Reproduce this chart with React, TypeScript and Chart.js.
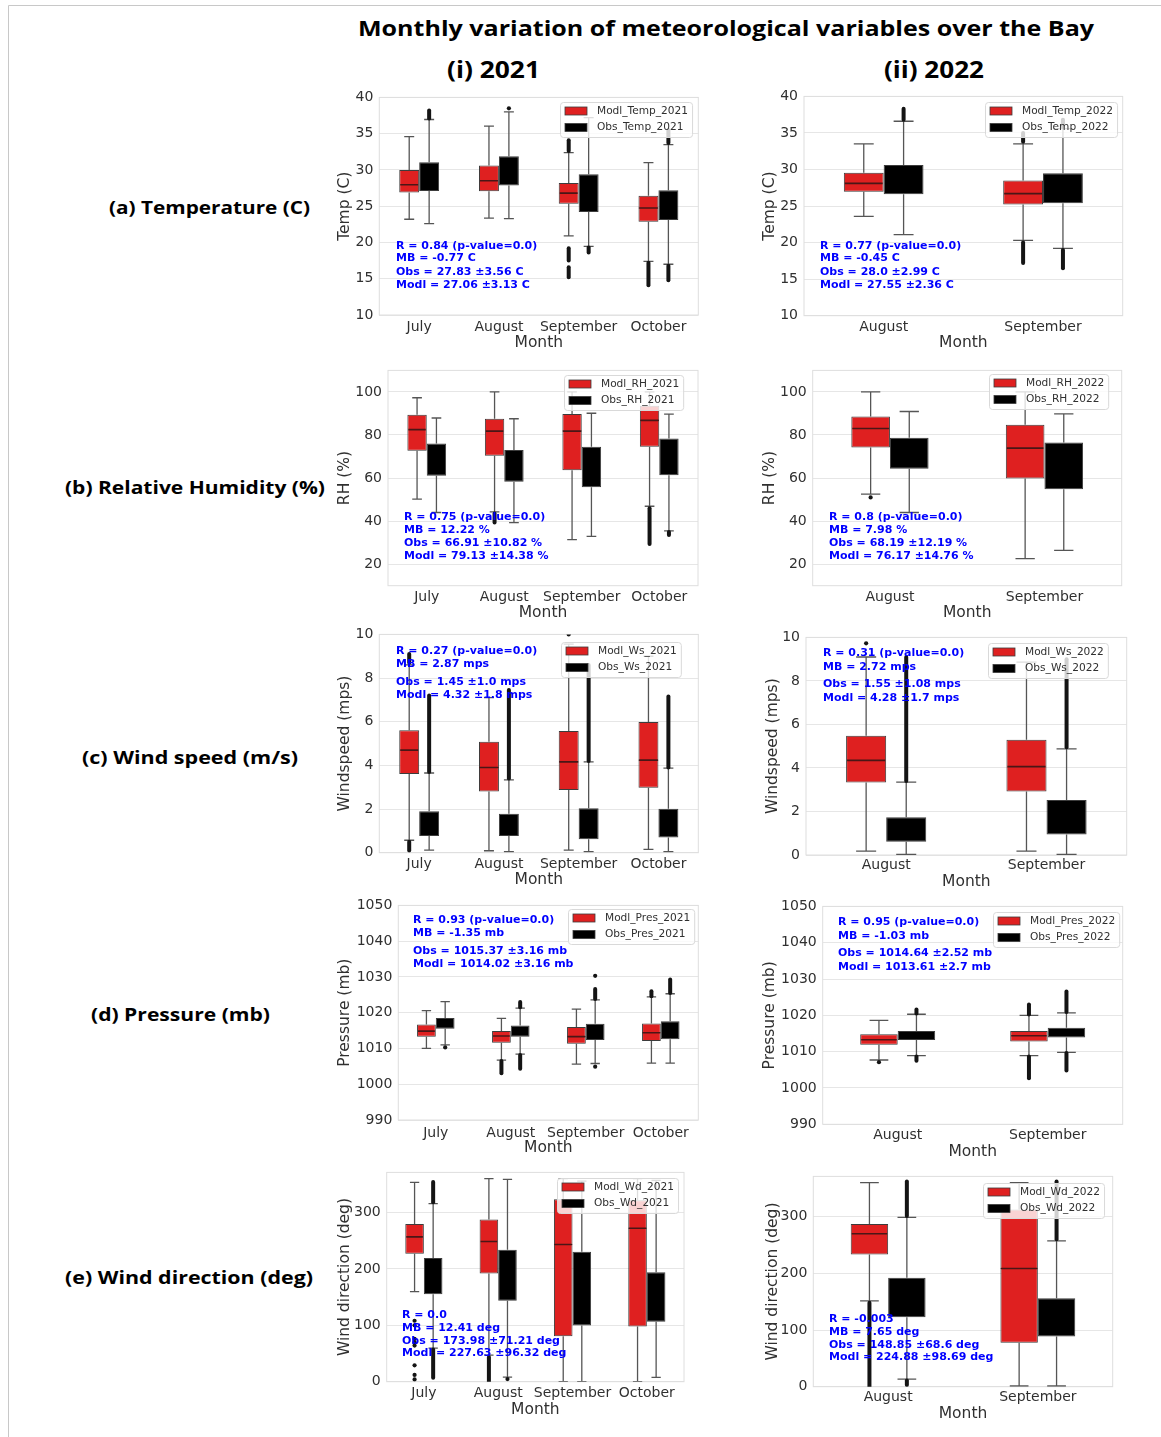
import React, { useEffect, useRef } from "react";
import { Chart, registerables } from "chart.js";

Chart.register(...registerables);
Chart.defaults.font.family = "'DejaVu Sans', sans-serif";

// ---------------------------------------------------------------------------
// Data. Box statistics are [lower whisker, Q1, median, Q3, upper whisker];
// Obs medians are not drawn (null). Outliers: single values or [from, to] runs
// of densely packed flier markers.
// ---------------------------------------------------------------------------
const MONTHS_2021 = ["July", "August", "September", "October"];
const MONTHS_2022 = ["August", "September"];

// (a) Temperature (C)
const TEMP_MODL_2021 = [
  [23.2, 26.9, 27.95, 30.0, 34.6],
  [23.35, 27.05, 28.5, 30.6, 36.05],
  [20.9, 25.35, 26.8, 28.2, 32.4],
  [17.4, 22.85, 24.75, 26.45, 31.0],
];
const TEMP_OBS_2021 = [
  [22.6, 27.1, null, 31.05, 36.95],
  [23.3, 27.85, null, 31.9, 38.0],
  [19.45, 24.2, null, 29.4, 37.2],
  [17.0, 23.1, null, 27.2, 33.5],
];
const TEMP_MODL_OUT_2021 = [[], [], [[32.6, 34.1], [17.5, 19.2], [15.2, 16.6]], [[14.1, 17.2]]];
const TEMP_OBS_OUT_2021 = [[[37.1, 38.2]], [38.5], [[18.6, 19.3]], [[33.7, 35.5], [14.8, 16.8]]];
const TEMP_STATS_2021 = ["R = 0.84 (p-value=0.0)", "MB = -0.77 C", "Obs = 27.83 \u00b13.56 C", "Modl = 27.06 \u00b13.13 C"];

const TEMP_MODL_2022 = [
  [23.6, 26.95, 28.1, 29.56, 33.5],
  [20.3, 25.2, 26.7, 28.5, 33.5],
];
const TEMP_OBS_2022 = [
  [21.1, 26.6, null, 30.6, 36.6],
  [19.2, 25.4, null, 29.5, 35.6],
];
const TEMP_MODL_OUT_2022 = [[], [[33.8, 35.0], [17.2, 20.0]]];
const TEMP_OBS_OUT_2022 = [[[36.8, 38.3]], [[35.8, 36.8], [16.5, 19.0]]];
const TEMP_STATS_2022 = ["R = 0.77 (p-value=0.0)", "MB = -0.45 C", "Obs = 28.0 \u00b12.99 C", "Modl = 27.55 \u00b12.36 C"];

// (b) Relative Humidity (%)
const RH_MODL_2021 = [
  [50.2, 72.7, 82.5, 89.4, 97.3],
  [44.3, 70.4, 81.8, 87.55, 100],
  [31.4, 63.6, 81.8, 89.8, 100],
  [46.9, 74.5, 86.8, 93.6, 100],
];
const RH_OBS_2021 = [
  [44.0, 61.1, null, 76.0, 87.9],
  [39.3, 58.3, null, 73.0, 87.55],
  [32.9, 55.7, null, 74.5, 90.1],
  [35.5, 61.3, null, 78.4, 89.7],
];
const RH_MODL_OUT_2021 = [[], [[39.3, 43.5]], [], [[29.4, 46.0]]];
const RH_OBS_OUT_2021 = [[], [], [], [[33.5, 35.0]]];
const RH_STATS_2021 = ["R = 0.75 (p-value=0.0)", "MB = 12.22 %", "Obs = 66.91 \u00b110.82 %", "Modl = 79.13 \u00b114.38 %"];

const RH_MODL_2022 = [
  [52.5, 74.2, 83.0, 88.6, 100],
  [22.6, 59.8, 73.9, 84.8, 100],
];
const RH_OBS_2022 = [
  [44.0, 64.3, null, 78.75, 90.9],
  [26.4, 54.8, null, 76.5, 89.8],
];
const RH_MODL_OUT_2022 = [[51.0], []];
const RH_OBS_OUT_2022 = [[], []];
const RH_STATS_2022 = ["R = 0.8 (p-value=0.0)", "MB = 7.98 %", "Obs = 68.19 \u00b112.19 %", "Modl = 76.17 \u00b114.76 %"];

// (c) Wind speed (m/s)
const WS_MODL_2021 = [
  [0.57, 3.6, 4.7, 5.61, 8.6],
  [0.09, 2.8, 3.9, 5.08, 7.1],
  [0.12, 2.87, 4.16, 5.57, 9.55],
  [0.15, 2.97, 4.24, 5.99, 9.0],
];
const WS_OBS_2021 = [
  [0.12, 0.77, null, 1.9, 3.65],
  [0.05, 0.77, null, 1.78, 3.34],
  [0.05, 0.62, null, 2.04, 4.16],
  [0.05, 0.7, null, 2.01, 3.87],
];
const WS_MODL_OUT_2021 = [[[8.7, 9.1], [0.1, 0.5]], [], [10.0], []];
const WS_OBS_OUT_2021 = [[[3.7, 7.2]], [[3.4, 7.45]], [[4.2, 8.6]], [[3.9, 7.15]]];
const WS_STATS_2021 = ["R = 0.27 (p-value=0.0)", "MB = 2.87 mps", "Obs = 1.45 \u00b11.0 mps", "Modl = 4.32 \u00b11.8 mps"];

const WS_MODL_2022 = [
  [0.18, 3.33, 4.35, 5.48, 9.1],
  [0.18, 2.92, 4.06, 5.3, 8.86],
];
const WS_OBS_2022 = [
  [0.03, 0.61, null, 1.73, 3.35],
  [0.03, 0.94, null, 2.53, 4.88],
];
const WS_MODL_OUT_2022 = [[9.73], []];
const WS_OBS_OUT_2022 = [[[3.4, 9.1]], [[4.95, 9.0]]];
const WS_STATS_2022 = ["R = 0.31 (p-value=0.0)", "MB = 2.72 mps", "Obs = 1.55 \u00b11.08 mps", "Modl = 4.28 \u00b11.7 mps"];

// (d) Pressure (mb)
const PRES_MODL_2021 = [
  [1010.0, 1013.3, 1014.85, 1016.7, 1020.6],
  [1006.75, 1011.6, 1013.5, 1014.85, 1018.4],
  [1005.65, 1011.35, 1013.3, 1016.0, 1021.0],
  [1005.9, 1012.1, 1014.4, 1017.0, 1024.4],
];
const PRES_OBS_2021 = [
  [1011.0, 1015.5, null, 1018.5, 1023.1],
  [1008.4, 1013.3, null, 1016.4, 1021.3],
  [1005.8, 1012.4, null, 1016.9, 1023.6],
  [1005.9, 1012.55, null, 1017.6, 1025.3],
];
const PRES_MODL_OUT_2021 = [[], [[1003.1, 1006.5]], [], [[1024.6, 1026.0]]];
const PRES_OBS_OUT_2021 = [[1010.3], [[1021.5, 1023.0], [1004.3, 1008.2]], [[1023.8, 1026.6], 1030.3, 1004.9], [[1025.5, 1029.3]]];
const PRES_STATS_2021 = ["R = 0.93 (p-value=0.0)", "MB = -1.35 mb", "Obs = 1015.37 \u00b13.16 mb", "Modl = 1014.02 \u00b13.16 mb"];

const PRES_MODL_2022 = [
  [1007.7, 1011.9, 1013.3, 1014.8, 1018.6],
  [1008.9, 1012.8, 1014.4, 1015.7, 1020.0],
];
const PRES_OBS_2022 = [
  [1008.9, 1013.2, null, 1015.7, 1020.3],
  [1009.8, 1013.9, null, 1016.6, 1020.7],
];
const PRES_MODL_OUT_2022 = [[1007.1], [[1020.2, 1023.0], [1002.7, 1008.7]]];
const PRES_OBS_OUT_2022 = [[[1020.5, 1021.6], [1007.5, 1008.7]], [[1020.9, 1026.6], [1004.8, 1009.6]]];
const PRES_STATS_2022 = ["R = 0.95 (p-value=0.0)", "MB = -1.03 mb", "Obs = 1014.64 \u00b12.52 mb", "Modl = 1013.61 \u00b12.7 mb"];

// (e) Wind direction (deg)
const WD_MODL_2021 = [
  [159.6, 226.9, 256.7, 279.5, 353.2],
  [47.0, 191.8, 248.5, 287.7, 360],
  [0, 80.7, 243.3, 323.4, 360],
  [0, 97.7, 271.9, 321.6, 360],
];
const WD_OBS_2021 = [
  [59.6, 155.0, null, 219.3, 315.8],
  [8.2, 143.3, null, 233.9, 358.5],
  [0, 99.4, null, 230.4, 355.6],
  [7.6, 106.4, null, 194.2, 356.7],
];
const WD_MODL_OUT_2021 = [[108, 100, 76, 70, 64, 29, 12, 4], [[0, 44]], [], []];
const WD_OBS_OUT_2021 = [[[318, 354], [7, 57]], [4.7], [], []];
const WD_STATS_2021 = ["R = 0.0", "MB = 12.41 deg", "Obs = 173.98 \u00b171.21 deg", "Modl = 227.63 \u00b196.32 deg"];

const WD_MODL_2022 = [
  [151.4, 233.0, 269.7, 287.1, 360],
  [1.2, 77.5, 208.5, 312.8, 360],
];
const WD_OBS_2022 = [
  [13.4, 122.3, null, 192.2, 298.8],
  [1.2, 88.5, null, 156.1, 257.4],
];
const WD_MODL_OUT_2022 = [[[0, 148]], []];
const WD_OBS_OUT_2022 = [[[301, 362], [3, 11]], [[260, 362]]];
const WD_STATS_2022 = ["R = -0.003", "MB = 7.65 deg", "Obs = 148.85 \u00b168.6 deg", "Modl = 224.88 \u00b198.69 deg"];

// Axis ranges and tick values
const TEMP_TICKS = [10, 15, 20, 25, 30, 35, 40];
const RH_TICKS = [20, 40, 60, 80, 100];
const WS_TICKS = [0, 2, 4, 6, 8, 10];
const PRES_TICKS = [990, 1000, 1010, 1020, 1030, 1040, 1050];
const WD_TICKS = [0, 100, 200, 300];

// Headings
const MAIN_TITLE = "Monthly variation of meteorological variables over the Bay";
const YEAR_TITLES = ["(i) 2021", "(ii) 2022"];
const ROW_LABELS = [
  "(a) Temperature (C)",
  "(b) Relative Humidity (%)",
  "(c) Wind speed (m/s)",
  "(d) Pressure (mb)",
  "(e) Wind direction (deg)",
];

// ---------------------------------------------------------------------------
// Panels (data side)
// ---------------------------------------------------------------------------
const PANELS = [
  { months: MONTHS_2021, modl: TEMP_MODL_2021, obs: TEMP_OBS_2021, modlOut: TEMP_MODL_OUT_2021, obsOut: TEMP_OBS_OUT_2021, stats: TEMP_STATS_2021, yTitle: "Temp (C)", legend: ["Modl_Temp_2021", "Obs_Temp_2021"], yMin: 10, yMax: 40, yTicks: TEMP_TICKS },
  { months: MONTHS_2022, modl: TEMP_MODL_2022, obs: TEMP_OBS_2022, modlOut: TEMP_MODL_OUT_2022, obsOut: TEMP_OBS_OUT_2022, stats: TEMP_STATS_2022, yTitle: "Temp (C)", legend: ["Modl_Temp_2022", "Obs_Temp_2022"], yMin: 10, yMax: 40, yTicks: TEMP_TICKS },
  { months: MONTHS_2021, modl: RH_MODL_2021, obs: RH_OBS_2021, modlOut: RH_MODL_OUT_2021, obsOut: RH_OBS_OUT_2021, stats: RH_STATS_2021, yTitle: "RH (%)", legend: ["Modl_RH_2021", "Obs_RH_2021"], yMin: 10, yMax: 110, yTicks: RH_TICKS },
  { months: MONTHS_2022, modl: RH_MODL_2022, obs: RH_OBS_2022, modlOut: RH_MODL_OUT_2022, obsOut: RH_OBS_OUT_2022, stats: RH_STATS_2022, yTitle: "RH (%)", legend: ["Modl_RH_2022", "Obs_RH_2022"], yMin: 10, yMax: 110, yTicks: RH_TICKS },
  { months: MONTHS_2021, modl: WS_MODL_2021, obs: WS_OBS_2021, modlOut: WS_MODL_OUT_2021, obsOut: WS_OBS_OUT_2021, stats: WS_STATS_2021, yTitle: "Windspeed (mps)", legend: ["Modl_Ws_2021", "Obs_Ws_2021"], yMin: 0, yMax: 10, yTicks: WS_TICKS },
  { months: MONTHS_2022, modl: WS_MODL_2022, obs: WS_OBS_2022, modlOut: WS_MODL_OUT_2022, obsOut: WS_OBS_OUT_2022, stats: WS_STATS_2022, yTitle: "Windspeed (mps)", legend: ["Modl_Ws_2022", "Obs_Ws_2022"], yMin: 0, yMax: 10, yTicks: WS_TICKS },
  { months: MONTHS_2021, modl: PRES_MODL_2021, obs: PRES_OBS_2021, modlOut: PRES_MODL_OUT_2021, obsOut: PRES_OBS_OUT_2021, stats: PRES_STATS_2021, yTitle: "Pressure (mb)", legend: ["Modl_Pres_2021", "Obs_Pres_2021"], yMin: 990, yMax: 1050, yTicks: PRES_TICKS },
  { months: MONTHS_2022, modl: PRES_MODL_2022, obs: PRES_OBS_2022, modlOut: PRES_MODL_OUT_2022, obsOut: PRES_OBS_OUT_2022, stats: PRES_STATS_2022, yTitle: "Pressure (mb)", legend: ["Modl_Pres_2022", "Obs_Pres_2022"], yMin: 990, yMax: 1050, yTicks: PRES_TICKS },
  { months: MONTHS_2021, modl: WD_MODL_2021, obs: WD_OBS_2021, modlOut: WD_MODL_OUT_2021, obsOut: WD_OBS_OUT_2021, stats: WD_STATS_2021, yTitle: "Wind direction (deg)", legend: ["Modl_Wd_2021", "Obs_Wd_2021"], yMin: 0, yMax: 371, yTicks: WD_TICKS },
  { months: MONTHS_2022, modl: WD_MODL_2022, obs: WD_OBS_2022, modlOut: WD_MODL_OUT_2022, obsOut: WD_OBS_OUT_2022, stats: WD_STATS_2022, yTitle: "Wind direction (deg)", legend: ["Modl_Wd_2022", "Obs_Wd_2022"], yMin: 0, yMax: 371, yTicks: WD_TICKS },
];

// ---------------------------------------------------------------------------
// Panel geometry on the page (plot area L/T/R/B, title centres, legend, notes)
// ---------------------------------------------------------------------------
const LAYOUTS = [
  { L: 379.3, T: 94.5, R: 698.3, B: 315, yTitleX: 345, xTitleY: 342.5, xPad: 3.6, legendX: 560, legendY: 102, statsX: 396, statsY: [245.7, 258.3, 271.7, 285] },
  { L: 804, T: 94.3, R: 1122.7, B: 315.7, yTitleX: 770, xTitleY: 343, xPad: 3.6, legendX: 985, legendY: 102, statsX: 820, statsY: [246.3, 258.3, 271.7, 285] },
  { L: 388, T: 367.7, R: 698, B: 585.7, yTitleX: 345, xTitleY: 613, xPad: 3, legendX: 564, legendY: 375, statsX: 404, statsY: [517.3, 530, 543.3, 556] },
  { L: 812.7, T: 367.7, R: 1121.7, B: 585.7, yTitleX: 770.7, xTitleY: 613, xPad: 3, legendX: 989, legendY: 374, statsX: 829, statsY: [517.3, 530, 543.3, 556] },
  { L: 379.3, T: 632.3, R: 698.3, B: 852.7, yTitleX: 345, xTitleY: 880, xPad: 3, legendX: 561, legendY: 642, statsX: 396, statsY: [650.7, 664.3, 681.7, 695] },
  { L: 806, T: 635, R: 1126.7, B: 855, yTitleX: 773, xTitleY: 882, xPad: 2.3, legendX: 988, legendY: 643, statsX: 823, statsY: [653.3, 666.7, 684.3, 697.7] },
  { L: 398.3, T: 902.7, R: 698.3, B: 1120, yTitleX: 345, xTitleY: 1148, xPad: 4.6, legendX: 568, legendY: 909, statsX: 413, statsY: [920, 933.3, 951, 964] },
  { L: 822.7, T: 904.3, R: 1122.7, B: 1124.3, yTitleX: 770, xTitleY: 1151.7, xPad: 3, legendX: 993, legendY: 912, statsX: 838, statsY: [921.7, 935.7, 953.3, 966.7] },
  { L: 386.7, T: 1170, R: 684, B: 1381.7, yTitleX: 345, xTitleY: 1409.3, xPad: 3.2, legendX: 557, legendY: 1178, statsX: 402, statsY: [1315, 1328.3, 1341, 1353.3] },
  { L: 813.3, T: 1174.3, R: 1112.7, B: 1386.7, yTitleX: 773, xTitleY: 1414, xPad: 2.6, legendX: 983, legendY: 1183, statsX: 829, statsY: [1319.3, 1332.3, 1344.7, 1357.3] },
];

const TITLE_POS = { x: 358, y: 36, w: 736, size: 21 };
const YEAR_POS = [
  { x: 447, y: 77.5, w: 93, size: 23 },
  { x: 884, y: 77.5, w: 100, size: 23 },
];
const ROW_POS = [
  { x: 109, y: 213.5, w: 201 },
  { x: 65, y: 493.5, w: 260 },
  { x: 82, y: 763.5, w: 216 },
  { x: 91, y: 1020.5, w: 179 },
  { x: 65, y: 1283.5, w: 248 },
];

// Styling
const RED = "#df2020";
const BLACK = "#000000";
const BOX_EDGE = "#3c3c3c";
const WHISKER = "#555555";
const MEDIAN = "#4a1616";
const FLIER = "#141414";
const GRID = "#e6e6e6";
const FRAME = "#dedede";
const TEXT = "#303030";
const NOTE = "#0000ff";
const TICK_SIZE = 14;
const TITLE_SIZE = 15.5;
const TITLE_HALF = (TITLE_SIZE * 1.2) / 2 + 4;

function makeBoxParts(spec: any, lay: any, cl: number, ct: number) {
  const stats = [spec.modl, spec.obs];
  const outs = [spec.modlOut, spec.obsOut];
  return {
    id: "boxParts",
    beforeDatasetsDraw(chart: any) {
      const { ctx, chartArea: a } = chart;
      const y = chart.scales.y;
      ctx.save();
      ctx.strokeStyle = FRAME;
      ctx.lineWidth = 1;
      ctx.strokeRect(a.left, a.top, a.right - a.left, a.bottom - a.top);
      ctx.beginPath();
      ctx.rect(a.left, a.top, a.right - a.left, a.bottom - a.top);
      ctx.clip();
      ctx.strokeStyle = WHISKER;
      ctx.lineWidth = 1.3;
      for (let d = 0; d < 2; d++) {
        const meta = chart.getDatasetMeta(d);
        stats[d].forEach((s: any[], i: number) => {
          const bar = meta.data[i];
          const x = bar.x;
          const cap = bar.width / 4;
          const [lo, q1, , q3, hi] = s;
          const pLo = y.getPixelForValue(lo);
          const pHi = y.getPixelForValue(hi);
          ctx.beginPath();
          ctx.moveTo(x, y.getPixelForValue(q3));
          ctx.lineTo(x, pHi);
          ctx.moveTo(x - cap, pHi);
          ctx.lineTo(x + cap, pHi);
          ctx.moveTo(x, y.getPixelForValue(q1));
          ctx.lineTo(x, pLo);
          ctx.moveTo(x - cap, pLo);
          ctx.lineTo(x + cap, pLo);
          ctx.stroke();
        });
      }
      ctx.restore();
    },
    afterDatasetsDraw(chart: any) {
      const { ctx, chartArea: a } = chart;
      const y = chart.scales.y;
      ctx.save();
      ctx.beginPath();
      ctx.rect(a.left, a.top, a.right - a.left, a.bottom - a.top);
      ctx.clip();
      for (let d = 0; d < 2; d++) {
        const meta = chart.getDatasetMeta(d);
        stats[d].forEach((s: any[], i: number) => {
          const bar = meta.data[i];
          const med = s[2];
          if (med !== null && med !== undefined) {
            const py = y.getPixelForValue(med);
            ctx.strokeStyle = MEDIAN;
            ctx.lineWidth = 1.6;
            ctx.beginPath();
            ctx.moveTo(bar.x - bar.width / 2 + 1, py);
            ctx.lineTo(bar.x + bar.width / 2 - 1, py);
            ctx.stroke();
          }
          (outs[d][i] || []).forEach((o: any) => {
            ctx.fillStyle = FLIER;
            ctx.strokeStyle = FLIER;
            if (Array.isArray(o)) {
              ctx.lineWidth = 4;
              ctx.lineCap = "round";
              ctx.beginPath();
              ctx.moveTo(bar.x, y.getPixelForValue(o[0]));
              ctx.lineTo(bar.x, y.getPixelForValue(o[1]));
              ctx.stroke();
            } else {
              ctx.beginPath();
              ctx.arc(bar.x, y.getPixelForValue(o), 2.1, 0, Math.PI * 2);
              ctx.fill();
            }
          });
        });
      }
      ctx.restore();
    },
    afterDraw(chart: any) {
      const { ctx } = chart;
      ctx.save();
      // legend box
      const lx = lay.legendX - cl;
      const ly = lay.legendY - ct;
      ctx.font = "10.6px 'DejaVu Sans', sans-serif";
      const tw = Math.max(ctx.measureText(spec.legend[0]).width, ctx.measureText(spec.legend[1]).width);
      const w = 37 + tw + 4;
      const h = 35;
      ctx.beginPath();
      if (ctx.roundRect) ctx.roundRect(lx + 0.5, ly + 0.5, w, h, 3);
      else ctx.rect(lx + 0.5, ly + 0.5, w, h);
      ctx.fillStyle = "rgba(255,255,255,0.8)";
      ctx.fill();
      ctx.strokeStyle = "#d9d9d9";
      ctx.lineWidth = 1;
      ctx.stroke();
      const colors = [RED, BLACK];
      [ly + 9, ly + 25.5].forEach((ry, k) => {
        ctx.fillStyle = colors[k];
        ctx.fillRect(lx + 5, ry - 4, 22, 8);
        ctx.strokeStyle = BOX_EDGE;
        ctx.lineWidth = 0.8;
        ctx.strokeRect(lx + 5, ry - 4, 22, 8);
        ctx.fillStyle = TEXT;
        ctx.textBaseline = "middle";
        ctx.textAlign = "left";
        ctx.fillText(spec.legend[k], lx + 37, ry);
      });
      // summary statistics
      ctx.font = "bold 11px 'DejaVu Sans', sans-serif";
      ctx.fillStyle = NOTE;
      ctx.textBaseline = "middle";
      ctx.textAlign = "left";
      spec.stats.forEach((s: string, k: number) => {
        ctx.fillText(s, lay.statsX - cl, lay.statsY[k] - ct);
      });
      ctx.restore();
    },
  };
}

function BoxPanel({ spec, lay }: { spec: any; lay: any }) {
  const ref = useRef<HTMLCanvasElement | null>(null);
  const cl = Math.round(lay.yTitleX - TITLE_HALF);
  const ct = Math.round(lay.T - 12);
  const cw = Math.round(lay.R + 12 - cl);
  const ch = Math.round(lay.xTitleY + TITLE_HALF - ct);

  useEffect(() => {
    const yWidth = lay.L - cl;
    const xHeight = ct + ch - lay.B;
    const padTop = lay.T - ct;
    const padRight = cl + cw - lay.R;
    const chart = new Chart(ref.current as HTMLCanvasElement, {
      type: "bar",
      data: {
        labels: spec.months,
        datasets: [
          {
            label: spec.legend[0],
            data: spec.modl.map((s: any[]) => [s[1], s[3]]),
            backgroundColor: RED,
            borderColor: BOX_EDGE,
            borderWidth: 1,
            borderSkipped: false,
            categoryPercentage: 0.5,
            barPercentage: 1,
          },
          {
            label: spec.legend[1],
            data: spec.obs.map((s: any[]) => [s[1], s[3]]),
            backgroundColor: BLACK,
            borderColor: BOX_EDGE,
            borderWidth: 1,
            borderSkipped: false,
            categoryPercentage: 0.5,
            barPercentage: 1,
          },
        ],
      } as any,
      options: {
        responsive: false,
        animation: false,
        devicePixelRatio: 1,
        events: [],
        layout: { padding: { left: 0, top: padTop, right: padRight, bottom: 0 } },
        plugins: { legend: { display: false }, tooltip: { enabled: false } },
        scales: {
          x: {
            type: "category",
            offset: true,
            grid: { display: false, drawTicks: false },
            border: { display: false },
            ticks: { color: TEXT, font: { size: TICK_SIZE }, padding: lay.xPad, maxRotation: 0, autoSkip: false },
            title: { display: true, text: "Month", color: TEXT, font: { size: TITLE_SIZE }, padding: { top: 0, bottom: 4 } },
            afterFit: (s: any) => {
              s.height = xHeight;
            },
          },
          y: {
            type: "linear",
            min: spec.yMin,
            max: spec.yMax,
            grid: { color: GRID, lineWidth: 1, drawTicks: false },
            border: { display: false },
            ticks: { color: TEXT, font: { size: TICK_SIZE }, padding: 6, callback: (v: any) => String(v) },
            afterBuildTicks: (s: any) => {
              s.ticks = spec.yTicks.map((v: number) => ({ value: v }));
            },
            title: { display: true, text: spec.yTitle, color: TEXT, font: { size: TITLE_SIZE }, padding: { top: 4, bottom: 0 } },
            afterFit: (s: any) => {
              s.width = yWidth;
            },
          },
        },
      } as any,
      plugins: [makeBoxParts(spec, lay, cl, ct)],
    });
    return () => chart.destroy();
  }, []);

  return (
    <canvas
      ref={ref}
      width={cw}
      height={ch}
      style={{ position: "absolute", left: cl, top: ct, width: cw, height: ch }}
    />
  );
}

export default function App() {
  const headFont = "'Open Sans', 'Noto Sans', sans-serif";
  return (
    <div style={{ position: "absolute", left: 0, top: 0, width: 1161, height: 1437, background: "#ffffff", overflow: "hidden" }}>
      <svg width={1161} height={1437} style={{ position: "absolute", left: 0, top: 0 }}>
        <line x1={8.5} y1={5.5} x2={1161} y2={5.5} stroke="#c8c8c8" strokeWidth={1} />
        <line x1={8.5} y1={5.5} x2={8.5} y2={1437} stroke="#c8c8c8" strokeWidth={1} />
        <text x={TITLE_POS.x} y={TITLE_POS.y} textLength={TITLE_POS.w} lengthAdjust="spacingAndGlyphs" fontSize={TITLE_POS.size} fontWeight={700} fontFamily={headFont} fill="#000">
          {MAIN_TITLE}
        </text>
        {YEAR_TITLES.map((t, i) => (
          <text key={t} x={YEAR_POS[i].x} y={YEAR_POS[i].y} textLength={YEAR_POS[i].w} lengthAdjust="spacingAndGlyphs" fontSize={YEAR_POS[i].size} fontWeight={700} fontFamily={headFont} fill="#000">
            {t}
          </text>
        ))}
        {ROW_LABELS.map((t, i) => (
          <text key={t} x={ROW_POS[i].x} y={ROW_POS[i].y} textLength={ROW_POS[i].w} lengthAdjust="spacingAndGlyphs" fontSize={17.5} fontWeight={700} fontFamily={headFont} fill="#000">
            {t}
          </text>
        ))}
      </svg>
      {PANELS.map((p, i) => (
        <BoxPanel key={i} spec={p} lay={LAYOUTS[i]} />
      ))}
    </div>
  );
}
